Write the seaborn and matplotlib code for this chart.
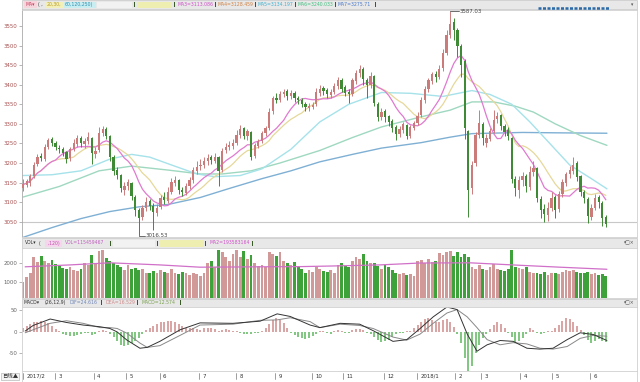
import numpy as np
import pandas as pd
import matplotlib
matplotlib.use("Agg")
import matplotlib.pyplot as plt
import seaborn as sns
from matplotlib.patches import Rectangle
from matplotlib.lines import Line2D

# ---------------- data (2-day candles, Shanghai Composite Feb 2017 - Jun 2018) -------------
close = [3145,3152,3165,3195,3215,3212,3240,3258,3252,3240,
         3235,3225,3210,3235,3250,3262,3250,3255,3265,3225,
         3230,3275,3285,3270,3215,3180,3170,3135,3140,3150,
         3115,3080,3060,3085,3100,3090,3075,3085,3110,3105,
         3125,3150,3155,3130,3125,3140,3155,3180,3190,3195,
         3205,3212,3208,3215,3180,3230,3240,3245,3250,3270,
         3285,3270,3280,3215,3245,3255,3275,3288,3330,3365,
         3362,3375,3380,3372,3378,3365,3360,3350,3342,3345,
         3348,3380,3388,3385,3375,3380,3395,3410,3390,3380,
         3375,3410,3430,3440,3415,3400,3420,3352,3318,3330,
         3317,3305,3290,3275,3285,3298,3270,3290,3300,3320,
         3360,3388,3410,3425,3420,3440,3480,3525,3555,3540,
         3500,3450,3290,3130,3195,3270,3300,3265,3262,3280,
         3310,3320,3295,3280,3270,3160,3135,3155,3165,3140,
         3175,3185,3110,3080,3070,3085,3110,3080,3120,3150,
         3170,3180,3195,3165,3125,3110,3065,3085,3110,3100,
         3060,3045]
open_ = [3135,3145,3150,3168,3198,3218,3210,3242,3260,3250,
         3238,3236,3226,3212,3236,3248,3262,3248,3255,3262,
         3222,3232,3276,3286,3268,3214,3182,3168,3132,3140,
         3148,3112,3078,3062,3086,3102,3090,3072,3088,3112,
         3104,3126,3150,3156,3130,3124,3140,3156,3180,3192,
         3195,3204,3214,3206,3214,3182,3232,3242,3244,3252,
         3272,3288,3268,3278,3218,3244,3256,3276,3290,3332,
         3366,3362,3376,3382,3370,3378,3366,3360,3350,3340,
         3344,3350,3380,3390,3386,3374,3382,3396,3410,3392,
         3380,3376,3410,3430,3440,3412,3400,3420,3350,3318,
         3332,3318,3306,3292,3274,3284,3296,3270,3290,3302,
         3322,3360,3388,3410,3426,3420,3442,3482,3528,3558,
         3538,3498,3460,3280,3135,3200,3272,3298,3252,3262,
         3282,3312,3322,3294,3282,3262,3158,3132,3156,3166,
         3138,3176,3186,3108,3082,3068,3086,3112,3082,3120,
         3150,3172,3180,3198,3166,3124,3108,3062,3086,3112,
         3098,3062]
high = [3158,3160,3172,3202,3222,3226,3248,3264,3266,3256,
        3246,3242,3230,3240,3262,3272,3268,3264,3278,3266,
        3240,3292,3295,3292,3272,3220,3190,3172,3152,3158,
        3152,3118,3085,3092,3112,3108,3098,3095,3118,3125,
        3138,3162,3166,3160,3138,3150,3165,3190,3205,3210,
        3215,3222,3220,3225,3218,3238,3250,3255,3260,3285,
        3297,3292,3288,3282,3252,3262,3282,3294,3340,3372,
        3378,3385,3390,3388,3386,3384,3372,3366,3356,3352,
        3356,3392,3398,3396,3392,3390,3405,3420,3416,3398,
        3388,3418,3438,3450,3444,3418,3432,3424,3356,3340,
        3338,3322,3312,3296,3294,3304,3300,3298,3308,3330,
        3368,3396,3418,3432,3436,3450,3490,3540,3587.03,3570,
        3545,3505,3465,3285,3205,3278,3335,3305,3275,3290,
        3335,3330,3326,3300,3292,3266,3168,3166,3176,3172,
        3192,3205,3190,3115,3095,3100,3126,3118,3128,3158,
        3178,3192,3215,3205,3170,3130,3112,3094,3120,3118,
        3102,3068]
low = [3128,3138,3142,3162,3192,3205,3204,3236,3244,3232,
       3226,3218,3200,3206,3230,3242,3240,3238,3248,3198,
       3212,3228,3268,3262,3205,3170,3158,3125,3118,3132,
       3105,3065,3016.53,3055,3078,3080,3030,3064,3082,3095,
       3098,3120,3140,3122,3115,3118,3134,3150,3172,3182,
       3186,3196,3198,3200,3141,3176,3225,3234,3236,3246,
       3265,3262,3258,3208,3212,3238,3250,3268,3284,3326,
       3352,3355,3368,3362,3364,3356,3350,3344,3334,3334,
       3338,3346,3372,3374,3366,3366,3376,3390,3382,3370,
       3353,3372,3402,3420,3400,3365,3392,3345,3308,3310,
       3305,3295,3280,3259,3266,3276,3262,3264,3284,3296,
       3318,3354,3382,3402,3408,3414,3436,3476,3520,3515,
       3470,3420,3260,3062,3120,3192,3265,3245,3242,3256,
       3276,3302,3285,3270,3258,3150,3115,3110,3140,3125,
       3132,3168,3100,3060,3050,3052,3078,3060,3075,3112,
       3142,3162,3172,3155,3115,3098,3046,3055,3080,3085,
       3040,3036]
volume = [1000,1250,1500,2300,2050,2350,2100,2000,2150,1950,
          1850,1750,1700,1800,1650,1600,1700,2000,1900,2400,
          2000,2650,2700,2250,2100,2000,1900,1800,1650,1900,
          1700,1750,1650,1700,1500,1450,1600,1500,1650,1550,
          1450,1700,1500,1400,1550,1500,1350,1450,1400,1300,
          1500,2000,2100,1800,2700,2600,2300,2100,2500,2700,
          2300,2650,2200,2400,2000,1850,1900,1800,2600,2500,
          2350,2600,2100,2000,1900,2050,1800,1700,1500,1650,
          1550,1800,1700,1600,1550,1650,1500,1900,2000,1850,
          1800,2100,2300,2200,2500,2100,2000,2000,1850,1700,
          1900,1800,1650,1500,1400,1450,1350,1400,1300,2100,
          2150,2000,2200,2050,2100,2550,2400,2600,2650,2350,
          2600,2300,2500,2300,1800,1700,1900,1700,1650,1800,
          1950,1700,1650,1600,1700,2700,1800,1750,1700,1800,
          1550,1500,1450,1400,1550,1350,1500,1450,1400,1550,
          1650,1600,1650,1550,1500,1450,1550,1400,1450,1350,
          1400,1300]
macd_hist = [8,14,18,22,24,25,22,20,14,6,
             2,-4,-8,-10,-9,-7,-6,-3,-2,-8,
             -5,3,5,2,-4,-12,-22,-30,-33,-30,
             -25,-20,-14,-4,4,10,14,18,22,24,
             26,25,22,18,14,10,8,8,6,5,
             8,10,8,6,2,4,6,5,3,2,
             -2,-4,-5,-6,-3,-2,2,8,18,28,
             32,28,20,10,-2,-8,-12,-15,-16,-14,
             -10,-4,2,3,-2,-4,2,4,3,-3,
             -2,4,6,7,4,-2,-6,-12,-18,-23,
             -22,-18,-12,-6,-3,-2,2,3,8,16,
             24,30,32,28,22,24,27,29,24,12,
             -4,-26,-60,-95,-80,-50,-30,-14,-4,6,
             16,24,18,10,-2,-12,-25,-22,-14,-4,
             8,5,-3,-5,-2,3,2,8,16,26,
             32,30,24,14,4,-8,-18,-25,-22,-16,
             -20,-24]
# DIF / DEA read at bar positions
line_pos = [0.6,2.8,7.5,12,16.6,21.3,24,26,28.7,32.3,34.3,37.8,43.4,48.9,58,65.5,70.2,73.8,79.3,82,
            87.6,93,96.7,102.2,106,109.7,113.3,117.1,119.9,122.7,125.4,128.2,131.8,135.4,139.2,142.8,
            146.4,150.3,153.9,157.5,161.3]
dif_val = [2,15,30,22,16,12,8,0,-19,-38,-36,-22,5,21,20,25,42,36,16,10,
           20,18,3,-22,-18,8,35,58,52,-5,-45,-30,-20,-22,-38,-40,-38,-18,-2,-6,-20]
dea_val = [-2,5,20,26,20,10,10,8,-3,-26,-36,-32,-8,16,18,27,28,33,24,10,
           18,15,8,-12,-19,-5,20,44,52,35,10,-18,-30,-25,-28,-38,-40,-34,-15,-8,-10]
# slow moving averages (bar position, value)
ma60_pos = [0,8,16,24,30,35,41,48,53,60,66,74,82,90,99,107,116,124,129,135,140,146,151,157,161.3]
ma60_val = [3168,3170,3180,3210,3222,3215,3195,3172,3165,3168,3185,3235,3305,3350,3380,3378,
            3370,3385,3375,3350,3305,3245,3195,3160,3134]
ma120_pos = [0,10,21,30,40,49,55,63,71,82,91,99,110,118,124,130,136,141,147,154,161.3]
ma120_val = [3113,3140,3180,3192,3182,3172,3172,3180,3200,3232,3265,3292,3318,3335,3356,3356,
             3345,3330,3300,3270,3245]
ma250_pos = [0,8,16,24,32,40,49,57,66,74,82,91,99,110,118,124,138,148,161.3]
ma250_val = [3010,3035,3058,3076,3088,3094,3112,3135,3160,3180,3203,3222,3238,3252,3266,3275,
             3278,3277,3276]
volma_pos = [0.6,13,24,37.8,48.9,65.5,76.5,84.8,98.6,109.7,123.5,137.3,148.3,161.3]
volma_val = [1800,1900,2010,1900,1780,1800,1810,1840,1900,2000,2010,1880,1780,1670]
month_labels = ["2017/2","3","4","5","6","7","8","9","10","11","12","2018/1","2","3","4","5","6"]
month_start = [0,8.8,19.6,28.5,37.8,48.6,58.8,69.6,79.8,88.4,99.7,108.8,119.3,126.5,137.3,146.1,156.6]
price_ticks = [3050,3100,3150,3200,3250,3300,3350,3400,3450,3500,3550]
vol_ticks = [1000,2000]
macd_ticks = [-50,0,50]
ma_legend = ["MA3=3113.086","MA4=3128.459","MA5=3134.197","MA6=3240.033","MA7=3275.71"]

# ---------------- styling -------------
sns.set_theme(style="white")
plt.rcParams['font.family'] = ['DejaVu Sans', 'Noto Sans CJK SC']
W, H = 640, 382
fig = plt.figure(figsize=(W/100, H/100), dpi=100)
FS = 3.9    # tick / axis text
FSH = 3.3   # header text

def fx(x): return x / W
def fy(y): return 1 - y / H
def add_ax(x0, y0, x1, y1):
    a = fig.add_axes([fx(x0), fy(y1), fx(x1) - fx(x0), (y1 - y0) / H])
    a.set_zorder(0.5)
    return a

UP, DN = "#cc7b7b", "#3f8a35"
VUP, VDN = "#d19a98", "#3da23a"
C_MA20, C_MA30, C_MA60, C_MA120, C_MA250 = "#e07ad0", "#e6d89a", "#a6e2ea", "#9fd8c0", "#7fb0d4"

N = len(close)
idx = np.arange(N)
o = np.array(open_, float); c = np.array(close, float)
h = np.array(high, float); l = np.array(low, float)
up = c >= o
XL = (-0.28, 169.6)

# ---------------- main price panel -------------
ax = add_ax(22, 9.5, 637, 237)
ax.set_xlim(*XL); ax.set_ylim(3011, 3592)
ax.axhline(3050, color="#c8c8c8", lw=0.8, zorder=0)
df = pd.DataFrame({"i": idx, "c": c})
df["ma20"] = df["c"].rolling(10, min_periods=1).mean()
df["ma30"] = df["c"].rolling(15, min_periods=1).mean()
sns.lineplot(x=ma250_pos, y=ma250_val, ax=ax, color=C_MA250, lw=1.0, sort=False, estimator=None)
sns.lineplot(x=ma120_pos, y=ma120_val, ax=ax, color=C_MA120, lw=1.0, sort=False, estimator=None)
sns.lineplot(x=ma60_pos, y=ma60_val, ax=ax, color=C_MA60, lw=1.0, sort=False, estimator=None)
sns.lineplot(data=df, x="i", y="ma30", ax=ax, color=C_MA30, lw=0.9)
sns.lineplot(data=df, x="i", y="ma20", ax=ax, color=C_MA20, lw=0.9)
cols = np.where(up, UP, DN)
ax.vlines(idx, l, h, colors=cols, lw=0.7, zorder=3)
ax.bar(idx, np.abs(c - o) + 1.0, bottom=np.minimum(o, c), width=0.62, color=cols, lw=0, zorder=4)
# high / low markers
ih = int(np.argmax(h)); il = int(np.argmin(l))
ax.plot([ih, ih + 2.4], [h[ih], h[ih]], color="#555555", lw=0.6, zorder=5, clip_on=False)
ax.text(ih + 2.6, h[ih] - 1, f"{h[ih]:.2f}", fontsize=FS, va="center", ha="left", color="#444444",
        zorder=6)
ax.plot([il, il, il + 1.6], [l[il], l[il] - 2, l[il] - 2], color="#555555", lw=0.6, zorder=5, clip_on=False)
ax.text(il + 1.8, l[il] - 2, f"{l[il]:.2f}", fontsize=FS, va="center", ha="left", color="#444444")
ax.set_yticks(price_ticks)
ax.set_yticklabels([str(t) for t in price_ticks], fontsize=FS, color="#a85050")
ax.set_xticks([])
ax.set_xlabel(""); ax.set_ylabel("")
ax.tick_params(axis="y", length=2.5, width=0.5, pad=1, color="#999999", left=True)
for s in ["top", "bottom", "right"]:
    ax.spines[s].set_color("#d0d0d0"); ax.spines[s].set_linewidth(0.6)
ax.spines["left"].set_color("#aaaaaa"); ax.spines["left"].set_linestyle((0, (1, 1)))
ax.spines["left"].set_linewidth(0.6)

# ---------------- volume panel -------------
axv = add_ax(22, 248, 637, 298)
axv.set_xlim(*XL); axv.set_ylim(158, 2790)
axv.bar(idx, volume, width=0.78, color=np.where(up, VUP, VDN), lw=0)
sns.lineplot(x=volma_pos, y=volma_val, ax=axv, color="#d070c8", lw=0.9, sort=False, estimator=None)
axv.set_yticks(vol_ticks)
axv.set_yticklabels([str(t) for t in vol_ticks], fontsize=FS, color="#666666")
axv.set_xticks([]); axv.set_xlabel(""); axv.set_ylabel("")
axv.tick_params(axis="y", length=2.5, width=0.5, pad=1, color="#999999", left=True)
for s in axv.spines.values():
    s.set_color("#d0d0d0"); s.set_linewidth(0.6)

# ---------------- MACD panel -------------
axm = add_ax(22, 307, 637, 371)
axm.set_xlim(*XL); axm.set_ylim(-91, 58)
hist = np.array(macd_hist, float)
axm.vlines(idx, 0, hist, colors=np.where(hist >= 0, "#d08a8a", "#5cb85c"), lw=1.1)
sns.lineplot(x=line_pos, y=dea_val, ax=axm, color="#888888", lw=0.7, sort=False, estimator=None)
sns.lineplot(x=line_pos, y=dif_val, ax=axm, color="#333333", lw=0.7, sort=False, estimator=None)
axm.set_yticks(macd_ticks)
axm.set_yticklabels([str(t) for t in macd_ticks], fontsize=FS, color="#666666")
axm.set_xticks([]); axm.set_xlabel(""); axm.set_ylabel("")
axm.tick_params(axis="y", length=2.5, width=0.5, pad=1, color="#999999", left=True)
for s in axm.spines.values():
    s.set_color("#d0d0d0"); s.set_linewidth(0.6)

# ---------------- date bar -------------
axd = add_ax(22, 371, 637, 382)
axd.set_xlim(*XL); axd.set_ylim(0, 1)
axd.set_xticks([]); axd.set_yticks([])
for s in axd.spines.values():
    s.set_color("#d0d0d0"); s.set_linewidth(0.6)
for lab, pos in zip(month_labels, month_start):
    axd.plot([pos, pos], [0.25, 0.85], color="#777777", lw=0.5)
    axd.text(pos + 0.9, 0.5, lab, fontsize=FS, va="center", ha="left", color="#333333")
fig.text(fx(2), fy(376.5), "日线▲", fontsize=FS, va="center", ha="left", color="#333333",
         family=["Noto Sans CJK SC", "DejaVu Sans"],
         bbox=dict(boxstyle="square,pad=0.15", fc="#f4f4f4", ec="#aaaaaa", lw=0.4))

# ---------------- header bars -------------
def header(y0, y1):
    fig.patches.append(Rectangle((fx(22), fy(y1)), fx(637) - fx(22), (y1 - y0) / H,
                                 transform=fig.transFigure, fc="#e8e8e8", ec="#c4c4c4", lw=0.5, zorder=0))
def field(x0, x1, y0, y1, colr):
    fig.patches.append(Rectangle((fx(x0), fy(y1)), fx(x1) - fx(x0), (y1 - y0) / H,
                                 transform=fig.transFigure, fc=colr, ec="none", zorder=1))
def t(x, y, s, colr="#333333", **kw):
    fig.text(fx(x), fy(y), s, fontsize=FSH, va="center", ha="left", color=colr, zorder=3, **kw)
def sep(x, y):
    fig.patches.append(Rectangle((fx(x), fy(y + 2.5)), 1.2 / W, 5 / H, transform=fig.transFigure,
                                 fc="#3a5a2a", ec="none", zorder=2))

# main header
header(0, 9)
field(24, 37, 1, 8, "#f6d6dc")
t(25, 4.5, "MA▾", "#c83c5c")
t(38.5, 4.5, "( ,")
field(46, 64, 1.5, 7.5, "#f2f0b8")
t(47, 4.5, "20,30,", "#b89a28")
field(64, 96, 1.5, 7.5, "#c8eef2")
t(65, 4.5, "60,120,250)", "#3090b0")
field(97, 132, 1.5, 7.5, "#f2f2f2")
sep(134, 4.5)
field(137, 172, 1.5, 7.5, "#eeeeb0")
sep(174, 4.5)
ma_cols = ["#d050c8", "#d08040", "#40b0d0", "#40c080", "#4878c8"]
ma_x = [177, 217, 257, 297, 337]
for s_, colr, xx in zip(ma_legend, ma_cols, ma_x):
    t(xx, 4.5, s_, colr)
    sep(xx + 37.5, 4.5)
t(631, 4.5, "▾", "#555555")
fig.add_artist(Line2D([fx(538), fx(610)], [fy(8), fy(8)], color="#2a6aa8", lw=1.8,
                      linestyle=(0, (1.2, 0.6)), transform=fig.transFigure))

# volume header
header(238, 247.5)
t(25, 243, "VOL▾", "#333333")
t(39, 243, "(")
field(45, 62, 239.5, 246.5, "#f6d6ec")
t(46, 243, " ,120)", "#c050b0")
t(65, 243, "VOL=115459467", "#c060c0")
sep(110, 243)
field(113, 155, 239.5, 246.5, "#f2f2f2")
sep(157, 243)
field(160, 204, 239.5, 246.5, "#eeeeb0")
sep(205, 243)
t(209, 243, "MA2=193583164", "#d050c8")
sep(252, 243)
t(624, 243, "▾□×", "#555555")

# MACD header
header(298.5, 306.5)
t(24, 302.5, "MACD▾", "#333333")
t(45, 302.5, "(26,12,9)", "#333333")
t(70, 302.5, "DIF=24.616", "#6f86b8")
sep(101, 302.5)
t(105, 302.5, "DEA=16.529", "#d08a8a")
sep(137, 302.5)
t(141, 302.5, "MACD=12.574", "#7aa050")
sep(180, 302.5)
t(624, 302.5, "▾□×", "#555555")

fig.savefig("out.png", dpi=100, facecolor="white")
